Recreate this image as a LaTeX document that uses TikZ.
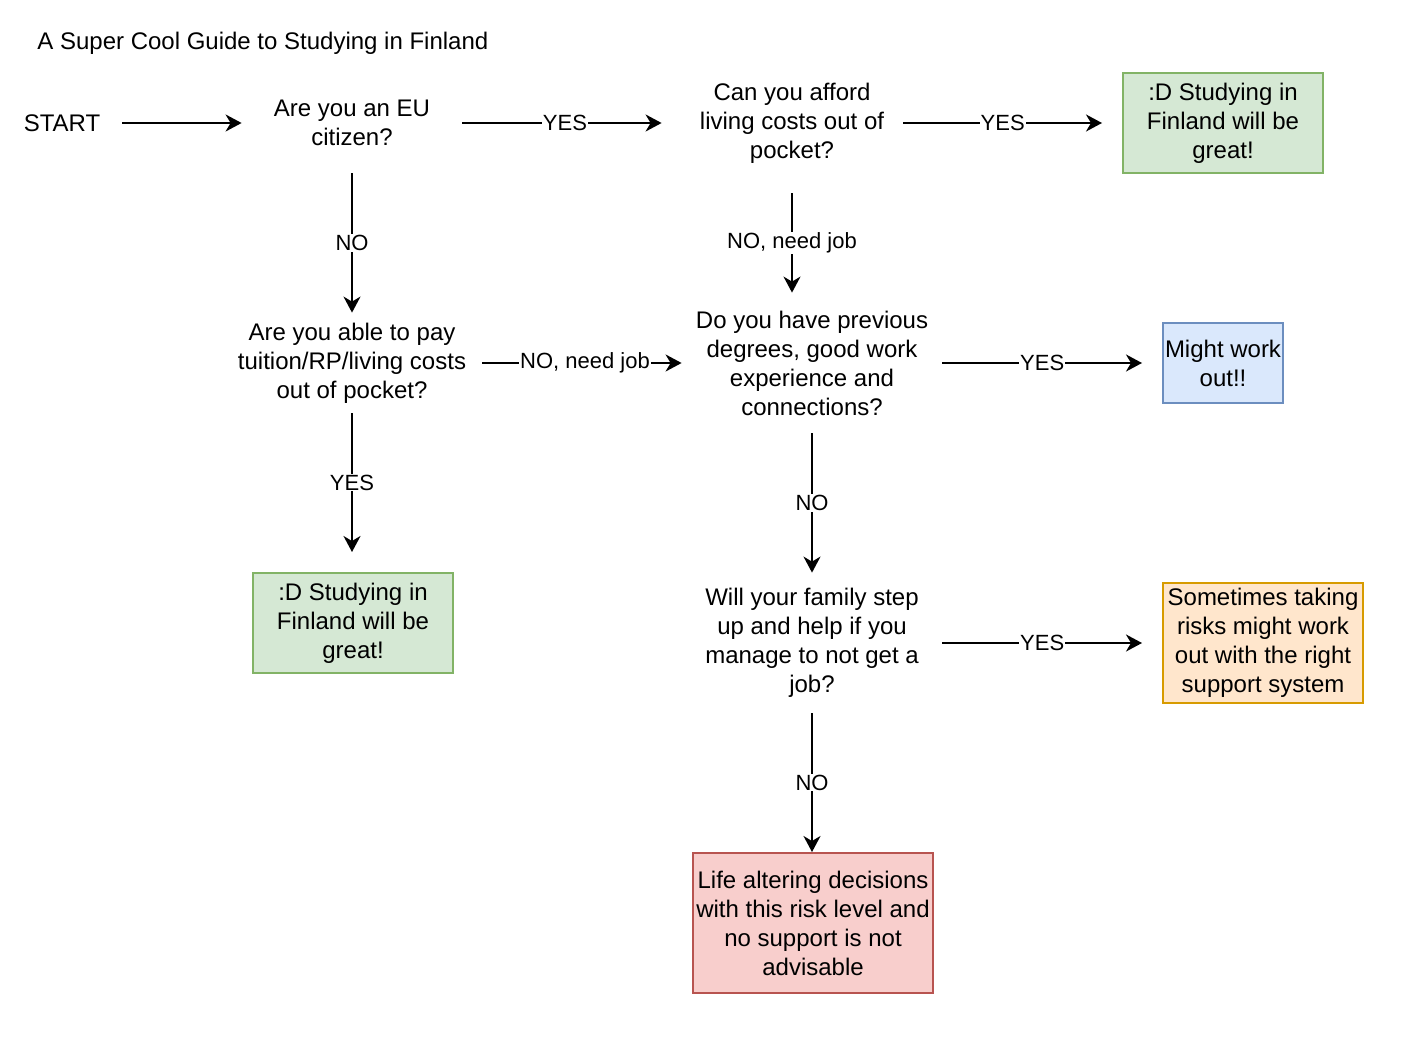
\documentclass[tikz,border=0pt]{standalone}
\usepackage{fontspec}
\setmainfont{Liberation Sans}
\usetikzlibrary{arrows.meta}
\definecolor{gfill}{HTML}{D5E8D4}\definecolor{gline}{HTML}{82B366}
\definecolor{bfill}{HTML}{DAE8FC}\definecolor{bline}{HTML}{6C8EBF}
\definecolor{ofill}{HTML}{FFE6CC}\definecolor{oline}{HTML}{D79B00}
\definecolor{rfill}{HTML}{F8CECC}\definecolor{rline}{HTML}{B85450}
\begin{document}
\begin{tikzpicture}[x=0.5pt,y=-0.5pt,
  txt/.style={font=\fontsize{12}{14.5}\selectfont, align=center, inner sep=0pt},
  ques/.style={txt},
  res/.style={txt, draw, line width=1pt},
  lbl/.style={font=\fontsize{11}{13}\selectfont, fill=white, inner sep=0.5pt},
  conn/.style={line width=1pt, -{Stealth[length=8pt,width=8.5pt,inset=2.5pt]}}]
\useasboundingbox (0,0) rectangle (1406,1048);
\node[txt, anchor=west] (title) at (37,43) {A Super Cool Guide to Studying in Finland};
\node[txt, minimum width=60pt] (start) at (62,123) {START};
\node[ques, minimum width=110pt, minimum height=50pt] (q1) at (352,123) {Are you an EU\\citizen?};
\node[ques, minimum width=115pt, minimum height=70pt] (q2) at (792,123) {Can you afford\\living costs out of\\pocket?};
\node[res, fill=gfill, draw=gline, minimum width=100pt, minimum height=50pt] (g1) at (1223,123) {:D Studying in\\Finland will be\\great!};
\node[ques, minimum width=130pt, minimum height=50pt] (q3) at (352,363) {Are you able to pay\\tuition/RP/living costs\\out of pocket?};
\node[ques, minimum width=130pt, minimum height=70pt] (q4) at (812,363) {Do you have previous\\degrees, good work\\experience and\\connections?};
\node[res, fill=bfill, draw=bline, minimum width=60pt, minimum height=40pt] (b1) at (1223,363) {Might work\\out!!};
\node[res, fill=gfill, draw=gline, minimum width=100pt, minimum height=50pt] (g2) at (353,623) {:D Studying in\\Finland will be\\great!};
\node[ques, minimum width=130pt, minimum height=70pt] (q5) at (812,643) {Will your family step\\up and help if you\\manage to not get a\\job?};
\node[res, fill=ofill, draw=oline, minimum width=100pt, minimum height=60pt] (o1) at (1263,643) {Sometimes taking\\risks might work\\out with the right\\support system};
\node[res, fill=rfill, draw=rline, minimum width=120pt, minimum height=70pt] (r1) at (813,923) {Life altering decisions\\with this risk level and\\no support is not\\advisable};

\draw[conn] (start.east) -- (q1.west);
\draw[conn] (q1.east) -- node[lbl, xshift=1.5pt]{YES} ([xshift=-7.5pt]q2.west);
\draw[conn] ([xshift=-2pt]q2.east) -- node[lbl]{YES} ([xshift=-10pt]g1.west);
\draw[conn] (q1.south) -- node[lbl]{NO} (q3.north);
\draw[conn] (q2.south) -- node[lbl]{NO, need job} (q2.south |- q4.north);
\draw[conn] (q3.east) -- node[lbl, xshift=1.5pt]{NO, need job} (q4.west);
\draw[conn] (q4.east) -- node[lbl]{YES} ([xshift=-10pt]b1.west);
\draw[conn] (q3.south) -- node[lbl]{YES} ([yshift=10pt]g2.north -| q3.south);
\draw[conn] (q4.south) -- node[lbl]{NO} (q5.north);
\draw[conn] (q5.east) -- node[lbl]{YES} ([xshift=-10pt]o1.west);
\draw[conn] (q5.south) -- node[lbl]{NO} (r1.north -| q5.south);
\end{tikzpicture}
\end{document}
